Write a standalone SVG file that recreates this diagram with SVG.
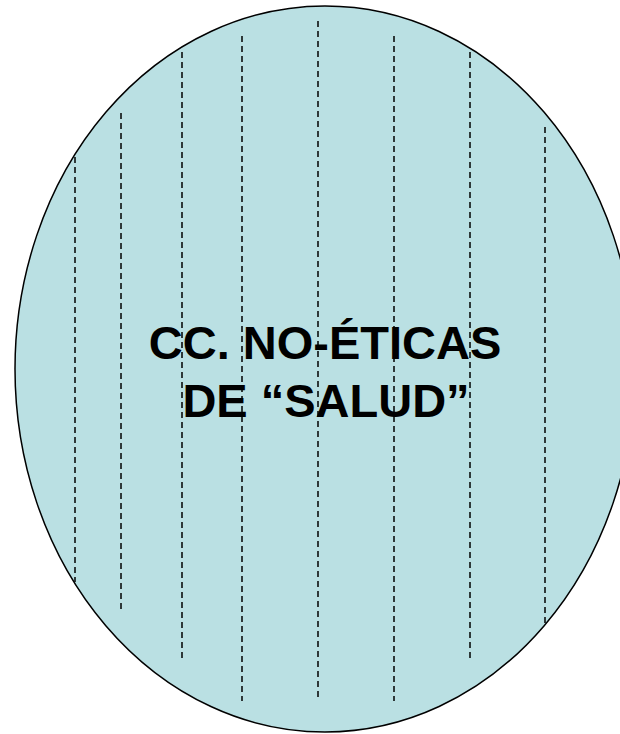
<svg xmlns="http://www.w3.org/2000/svg" width="620" height="734" viewBox="0 0 620 734">
<style>
.hatch{stroke:#000;stroke-width:1.5;stroke-dasharray:6,4;fill:none}
.lbl{font-family:"Liberation Sans",Arial,sans-serif;font-weight:bold;font-size:47px;fill:#000;text-anchor:middle}
</style>
<rect width="620" height="734" fill="#fff"/>
<g id="ellipse">
<ellipse cx="325" cy="369" rx="310" ry="363" fill="#bae0e3" stroke="#000" stroke-width="1.5"/>
</g>
<g id="hatching">
<line class="hatch" x1="75" y1="157" x2="75" y2="582"/>
<line class="hatch" x1="121" y1="113" x2="121" y2="609"/>
<line class="hatch" x1="182" y1="52" x2="182" y2="659"/>
<line class="hatch" x1="242" y1="36" x2="242" y2="701"/>
<line class="hatch" x1="318" y1="21" x2="318" y2="700"/>
<line class="hatch" x1="394" y1="36" x2="394" y2="701"/>
<line class="hatch" x1="470" y1="52" x2="470" y2="659"/>
<line class="hatch" x1="545" y1="127" x2="545" y2="627"/>
</g>
<g id="label">
<text class="lbl" x="325" y="359">CC. NO-ÉTICAS</text>
<text class="lbl" x="326" y="417">DE “SALUD”</text>
</g>
</svg>
